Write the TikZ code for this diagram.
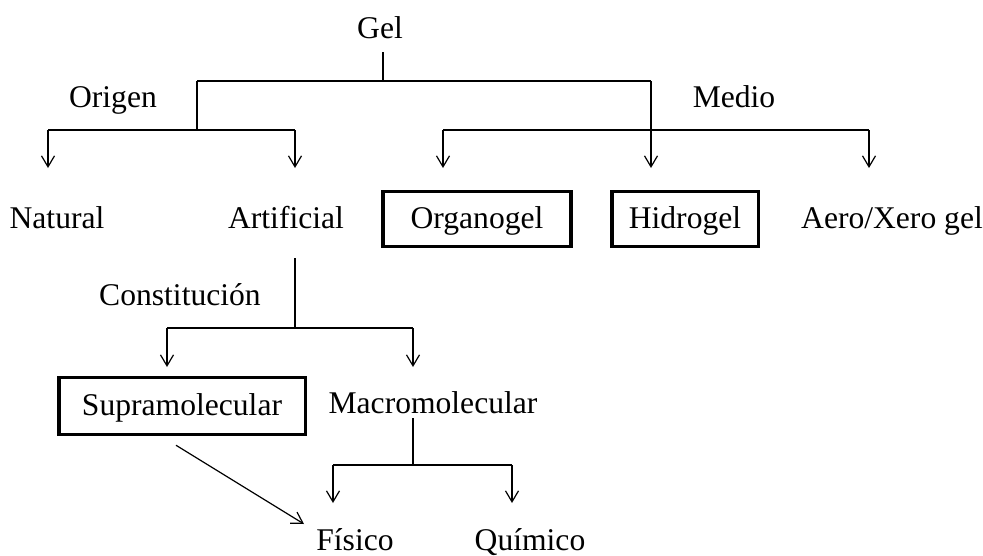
\documentclass[tikz,border=0pt]{standalone}
\usepackage{fontspec}
\setmainfont{Liberation Serif}
\usetikzlibrary{arrows.meta}
\begin{document}
\begin{tikzpicture}[x=1pt,y=-1pt,
 lbl/.style={font=\fontsize{31.6}{38}\selectfont, inner sep=0pt, anchor=base},
 boxed/.style={font=\fontsize{31.6}{38}\selectfont, draw, line width=3.5pt, inner sep=0pt,
   text height=24pt, text depth=5pt, minimum height=55pt},
 conn/.style={line width=1.2pt},
 arr/.style={conn, -{Straight Barb[length=11pt,width=13pt]}}]
\useasboundingbox (0,0) rectangle (983,555);

% nodes
\node[lbl] (gel) at (380,38) {Gel};
\node[lbl] (origen) at (113,107) {Origen};
\node[lbl] (medio) at (734,107) {Medio};
\node[lbl] (natural) at (57,228) {Natural};
\node[lbl] (artificial) at (286,228) {Artificial};
\node[boxed, minimum width=188pt] (organogel) at (477,219) {Organogel};
\node[boxed, minimum width=146.5pt] (hidrogel) at (685,219) {Hidrogel};
\node[lbl] (aero) at (892,228) {Aero/Xero gel};
\node[lbl] (constit) at (180,305) {Constitución};
\node[boxed, minimum width=246.5pt, minimum height=57pt] (supra) at (182,406) {Supramolecular};
\node[lbl] (macro) at (433,413) {Macromolecular};
\node[lbl] (fisico) at (355,550) {Físico};
\node[lbl] (quimico) at (530,550) {Químico};

% junction coordinates
\coordinate (g1) at (383,81);
\coordinate (o1) at (197,81);
\coordinate (m1) at (651,81);
\coordinate (o2) at (197,130);
\coordinate (na1) at (48,130);
\coordinate (ar1) at (295,130);
\coordinate (or1) at (443,130);
\coordinate (ae1) at (869,130);
\coordinate (c1) at (295,328);
\coordinate (s1) at (167,328);
\coordinate (mc1) at (413,328);
\coordinate (f0) at (413,465);
\coordinate (f1) at (333,465);
\coordinate (q1) at (512,465);

% top level
\draw[conn] (gel.base) ++(3,14) -- (g1);
\draw[conn] (o1) -- (m1);
\draw[conn] (o1) -- (o2);
\draw[conn] (na1) -- (ar1);
\draw[arr] (na1) -- ++(0,38);
\draw[arr] (ar1) -- ++(0,38);
\draw[arr] (m1) -- ++(0,87);
\draw[conn] (or1) -- (ae1);
\draw[arr] (or1) -- ++(0,38);
\draw[arr] (ae1) -- ++(0,38);

% constitution
\draw[conn] (artificial.base) ++(9,30) -- (c1);
\draw[conn] (s1) -- (mc1);
\draw[arr] (s1) -- ++(0,39);
\draw[arr] (mc1) -- ++(0,39);

% macromolecular
\draw[conn] (macro.base) ++(-20,5) -- (f0);
\draw[conn] (f1) -- (q1);
\draw[arr] (f1) -- ++(0,38);
\draw[arr] (q1) -- ++(0,38);

% supramolecular to fisico
\draw[arr] ([shift={(-6,9)}]supra.south) -- ([shift={(-51,-26)}]fisico.base);
\end{tikzpicture}
\end{document}
